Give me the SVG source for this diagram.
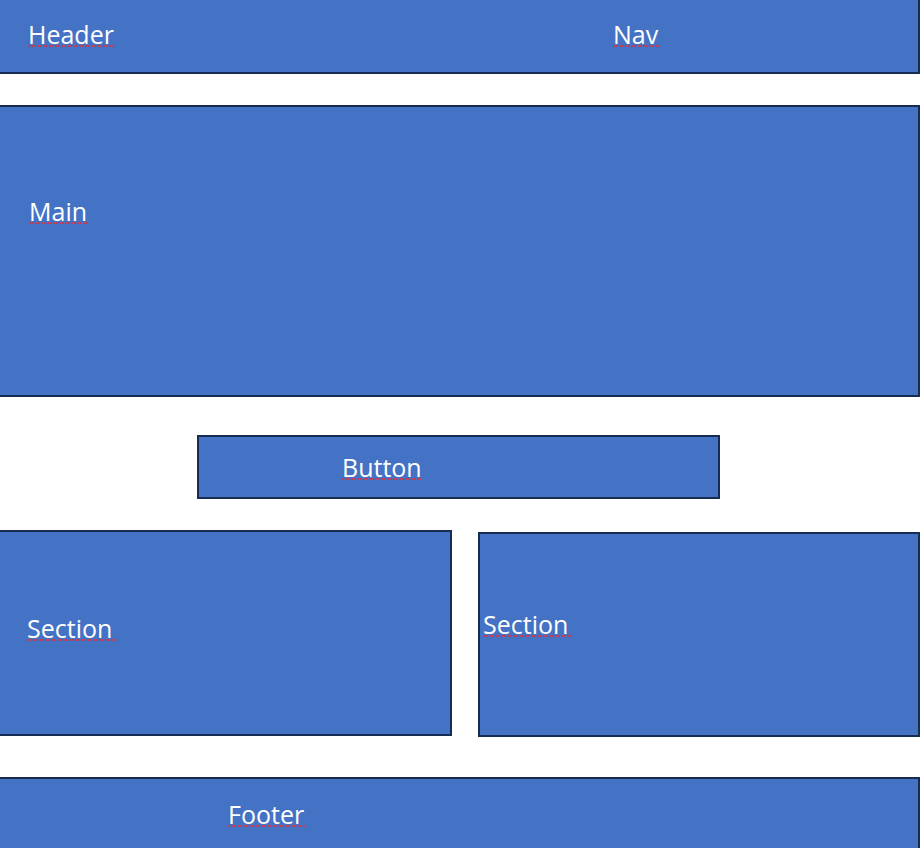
<svg xmlns="http://www.w3.org/2000/svg" width="920" height="848" viewBox="0 0 920 848">
<style>
.box{fill:#4472C4;stroke:#172C51;stroke-width:2}
.lbl{font-family:"Open Sans","Liberation Sans",sans-serif;font-size:25px;fill:#FFFFFF}
.sq{stroke:#E0303A;stroke-width:1.5;stroke-dasharray:2 1;fill:none}
</style>
<rect width="920" height="848" fill="#FFFFFF"/>
<g id="header">
<rect class="box" x="-2" y="-2" width="921" height="75"/>
<text class="lbl" x="28" y="44">Header</text>
<line class="sq" x1="28" y1="46" x2="116" y2="46"/>
<text class="lbl" x="613" y="44">Nav</text>
<line class="sq" x1="613" y1="46" x2="661" y2="46"/>
</g>
<g id="main">
<rect class="box" x="-2" y="106" width="921" height="290"/>
<text class="lbl" x="29" y="221">Main</text>
<line class="sq" x1="29" y1="223" x2="89" y2="223"/>
</g>
<g id="button">
<rect class="box" x="198" y="436" width="521" height="62"/>
<text class="lbl" x="342" y="477">Button</text>
<line class="sq" x1="342" y1="479" x2="421" y2="479"/>
</g>
<g id="section1">
<rect class="box" x="-2" y="531" width="453" height="204"/>
<text class="lbl" x="27" y="638">Section</text>
<line class="sq" x1="27" y1="640" x2="116" y2="640"/>
</g>
<g id="section2">
<rect class="box" x="479" y="533" width="440" height="203"/>
<text class="lbl" x="483" y="634">Section</text>
<line class="sq" x1="483" y1="636" x2="572" y2="636"/>
</g>
<g id="footer">
<rect class="box" x="-2" y="778" width="921" height="80"/>
<text class="lbl" x="228" y="824">Footer</text>
<line class="sq" x1="228" y1="826" x2="306" y2="826"/>
</g>
<g id="connectors"></g>
</svg>
